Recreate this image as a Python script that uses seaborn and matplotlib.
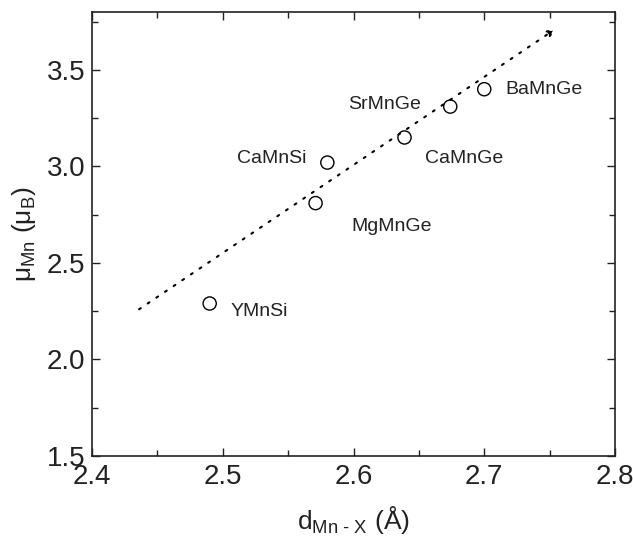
import matplotlib
matplotlib.use("Agg")
import matplotlib.pyplot as plt
import seaborn as sns
import pandas as pd

compounds = ["YMnSi", "MgMnGe", "CaMnSi", "CaMnGe", "SrMnGe", "BaMnGe"]
d_mnx = [2.490, 2.571, 2.580, 2.639, 2.674, 2.700]
mu_mn = [2.29, 2.81, 3.02, 3.15, 3.31, 3.40]
label_x = [2.506, 2.598, 2.511, 2.655, 2.596, 2.716]
label_y = [2.25, 2.69, 3.04, 3.04, 3.32, 3.40]
trend_x = [2.436, 2.754]
trend_y = [2.26, 3.71]
xticks = [2.4, 2.5, 2.6, 2.7, 2.8]
yticks = [1.5, 2.0, 2.5, 3.0, 3.5]

sns.set_style("ticks")
plt.rcParams['font.family'] = ['Liberation Sans', 'DejaVu Sans']
plt.rcParams['mathtext.fontset'] = 'custom'
plt.rcParams['mathtext.rm'] = 'Liberation Sans'
plt.rcParams['mathtext.it'] = 'Liberation Sans:italic'

df = pd.DataFrame({"d": d_mnx, "mu": mu_mn, "name": compounds})

fig = plt.figure(figsize=(6.33, 5.38), dpi=100)
ax = fig.add_axes([92/633, 1-456/538, (615-92)/633, (456-12)/538])

sns.scatterplot(data=df, x="d", y="mu", ax=ax, s=90, marker="o",
                facecolor="none", edgecolor="black", linewidth=1.0, zorder=3)

ax.annotate("", xy=(trend_x[1], trend_y[1]), xytext=(trend_x[0], trend_y[0]),
            arrowprops=dict(arrowstyle="-|>", linestyle=(0, (1, 4)), color="black",
                            lw=1.5, mutation_scale=10, shrinkA=0, shrinkB=0))

for n, lx, ly in zip(compounds, label_x, label_y):
    ax.text(lx, ly, n, fontsize=14, va="center", ha="left", color="#222222")

ax.set_xlim(2.4, 2.8)
ax.set_ylim(1.5, 3.8)
ax.set_xticks(xticks)
ax.set_yticks(yticks)
ax.set_xticks([2.45, 2.55, 2.65, 2.75], minor=True)
ax.set_yticks([1.75, 2.25, 2.75, 3.25, 3.75], minor=True)
ax.tick_params(which="both", direction="in", top=True, right=True, labelsize=20,
               colors="#222222")
ax.tick_params(which="major", length=6, width=1)
ax.tick_params(which="minor", length=4, width=1)
ax.tick_params(axis="x", pad=6)
ax.tick_params(axis="y", pad=5)
for s in ax.spines.values():
    s.set_visible(True)
    s.set_linewidth(1.2)
    s.set_color("#222222")

ax.set_xlabel("d$_{\\rm Mn\\ \u2010\\ X}$ (Å)", fontsize=19, labelpad=10, color="#222222")
ax.set_ylabel("$\\rm μ_{Mn}$ ($\\rm μ_{B}$)", fontsize=19, labelpad=6, color="#222222")

fig.savefig("out.png", dpi=100)
